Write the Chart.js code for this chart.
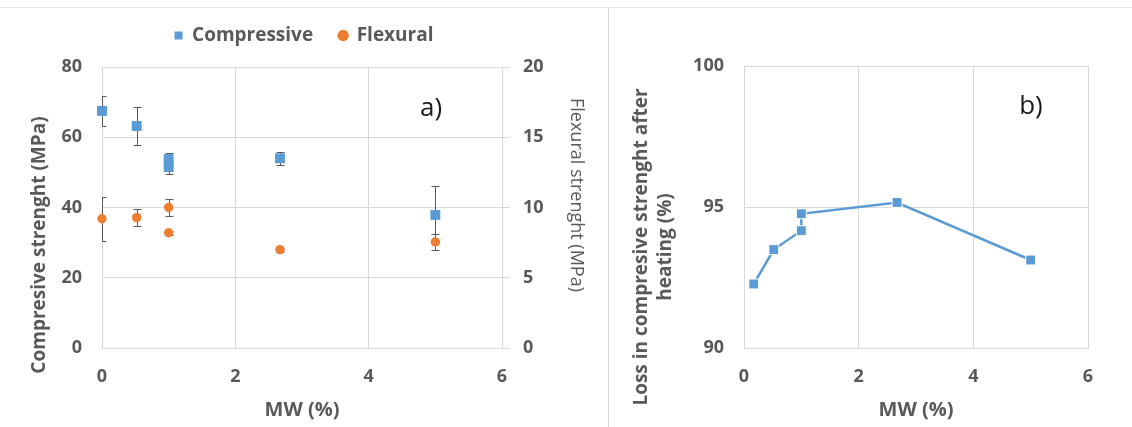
<!DOCTYPE html>
<html>
<head>
<meta charset="utf-8">
<script src="https://cdn.jsdelivr.net/npm/chart.js@4"></script>
<style>
  html, body { margin: 0; padding: 0; background: #fff; }
  #wrap { position: relative; width: 1132px; height: 427px; overflow: hidden; }
  #topline { position: absolute; left: 0; top: 7px; width: 1132px; height: 0; border-top: 1px solid #e6e6e6; }
  #sep { position: absolute; left: 608px; top: 8px; width: 0; height: 419px; border-left: 1px solid #d9d9d9; }
  #chartA { position: absolute; left: 0; top: 0; }
  #chartB { position: absolute; left: 610px; top: 0; }
</style>
</head>
<body>
<div id="wrap">
  <div id="topline"></div>
  <div id="sep"></div>
  <canvas id="chartA" width="608" height="427"></canvas>
  <canvas id="chartB" width="522" height="427"></canvas>
</div>
<script>
// panel a) - strength vs MW content
const mwA = [0, 0.52, 1, 1, 2.67, 5];
const compressive = [67.5, 63.2, 53.8, 51.5, 54.0, 37.9];
const compressiveErr = [4.2, 5.4, 1.8, 2.0, 1.9, 8.1];
const flexural = [9.2, 9.28, 10.0, 8.2, 7.0, 7.55];
const flexuralErr = [1.55, 0.6, 0.6, 0.15, 0.15, 0.55];

// panel b) - loss after heating
const mwB = [0.17, 0.52, 1, 1, 2.67, 5];
const lossAfterHeating = [92.27, 93.49, 94.16, 94.76, 95.16, 93.12];

const xTicks = [0, 2, 4, 6];

const BLUE = '#5b9bd5';
const ORANGE = '#ed7d31';
const GRID = '#d9d9d9';
const TEXT = '#595959';
const FONT = "'Open Sans', sans-serif";

Chart.defaults.font.family = FONT;
Chart.defaults.color = TEXT;

const tickFont = { size: 18, weight: 'bold' };

// error bars drawn under the markers, clipped to the plot area
const errorBars = {
  id: 'errorBars',
  beforeDatasetsDraw(chart) {
    const ctx = chart.ctx;
    const area = chart.chartArea;
    ctx.save();
    ctx.beginPath();
    ctx.rect(area.left, area.top, area.right - area.left, area.bottom - area.top);
    ctx.clip();
    ctx.strokeStyle = TEXT;
    ctx.lineWidth = 1;
    chart.data.datasets.forEach(ds => {
      if (!ds.errors) return;
      const xs = chart.scales.x;
      const ys = chart.scales[ds.yAxisID];
      ds.data.forEach((p, j) => {
        const e = ds.errors[j];
        const px = Math.round(xs.getPixelForValue(p.x)) + 0.5;
        const top = Math.round(ys.getPixelForValue(p.y + e)) + 0.5;
        const bot = Math.round(ys.getPixelForValue(p.y - e)) + 0.5;
        ctx.beginPath();
        ctx.moveTo(px, top); ctx.lineTo(px, bot);
        ctx.moveTo(px - 4, top); ctx.lineTo(px + 4, top);
        ctx.moveTo(px - 4, bot); ctx.lineTo(px + 4, bot);
        ctx.stroke();
      });
    });
    ctx.restore();
  }
};

// free text: axis titles and panel letters
const panelText = {
  id: 'panelText',
  afterDraw(chart, args, opts) {
    const ctx = chart.ctx;
    (opts.items || []).forEach(t => {
      ctx.save();
      ctx.translate(t.x, t.y);
      ctx.rotate(t.rot || 0);
      ctx.font = t.font;
      ctx.fillStyle = t.color;
      ctx.textAlign = 'center';
      ctx.textBaseline = 'middle';
      ctx.fillText(t.text, 0, 0);
      ctx.restore();
    });
  }
};

// extra space under the legend
const legendGap = {
  id: 'legendGap',
  beforeInit(chart) {
    if (!chart.legend) return;
    const fit = chart.legend.fit;
    chart.legend.fit = function () {
      fit.bind(chart.legend)();
      this.height += 12;
    };
  }
};

function xScale() {
  return {
    type: 'linear',
    min: 0,
    max: 6,
    afterBuildTicks: s => { s.ticks = xTicks.map(v => ({ value: v })); },
    ticks: { font: tickFont, color: TEXT, padding: 18 },
    grid: { color: GRID, drawTicks: false },
    border: { color: GRID },
    title: { display: true, text: 'MW (%)', color: TEXT, font: { size: 20, weight: 'bold' }, padding: { top: 0, bottom: 5 } },
    afterFit: s => { s.height = 79; }
  };
}

new Chart(document.getElementById('chartA'), {
  type: 'scatter',
  data: {
    datasets: [
      {
        label: 'Compressive',
        data: mwA.map((x, i) => ({ x, y: compressive[i] })),
        errors: compressiveErr,
        yAxisID: 'y',
        pointStyle: 'rect',
        pointRadius: 7,
        backgroundColor: BLUE,
        borderColor: BLUE,
        borderWidth: 0,
        clip: false
      },
      {
        label: 'Flexural',
        data: mwA.map((x, i) => ({ x, y: flexural[i] })),
        errors: flexuralErr,
        yAxisID: 'y1',
        pointStyle: 'circle',
        pointRadius: 4.7,
        backgroundColor: ORANGE,
        borderColor: ORANGE,
        borderWidth: 0,
        clip: false
      }
    ]
  },
  options: {
    responsive: false,
    animation: false,
    layout: { padding: { top: 0, left: 0, right: 0, bottom: 0 } },
    plugins: {
      legend: {
        position: 'top',
        labels: {
          usePointStyle: true,
          boxWidth: 8,
          boxHeight: 8,
          padding: 26,
          color: TEXT,
          font: { size: 19, weight: 'bold' }
        }
      },
      tooltip: { enabled: false },
      panelText: {
        items: [
          { text: 'Compresive strenght (MPa)', x: 40, y: 245, rot: -Math.PI / 2, font: `bold 19px ${FONT}`, color: TEXT },
          { text: 'Flexural strenght (MPa)', x: 576, y: 195, rot: Math.PI / 2, font: `400 18px ${FONT}`, color: TEXT },
          { text: 'a)', x: 431, y: 109, font: `400 26px ${FONT}`, color: '#1a1a1a' }
        ]
      }
    },
    scales: {
      x: xScale(),
      y: {
        position: 'left',
        min: 0,
        max: 80,
        ticks: { stepSize: 20, font: tickFont, color: TEXT, padding: 20 },
        grid: { color: GRID, drawTicks: false },
        border: { color: GRID },
        afterFit: s => { s.width = 102; }
      },
      y1: {
        position: 'right',
        min: 0,
        max: 20,
        ticks: { stepSize: 5, font: tickFont, color: TEXT, padding: 13 },
        grid: { color: GRID, drawOnChartArea: false, tickLength: 8 },
        border: { color: GRID },
        afterFit: s => { s.width = 106; }
      }
    }
  },
  plugins: [legendGap, errorBars, panelText]
});

new Chart(document.getElementById('chartB'), {
  type: 'scatter',
  data: {
    datasets: [
      {
        label: 'Loss after heating',
        data: mwB.map((x, i) => ({ x, y: lossAfterHeating[i] })),
        showLine: true,
        borderColor: BLUE,
        borderWidth: 2.5,
        pointStyle: 'rect',
        pointRadius: 7,
        pointBackgroundColor: BLUE,
        pointBorderColor: '#ffffff',
        pointBorderWidth: 1,
        clip: false
      }
    ]
  },
  options: {
    responsive: false,
    animation: false,
    layout: { padding: { top: 66, left: 0, right: 44, bottom: 0 } },
    plugins: {
      legend: { display: false },
      tooltip: { enabled: false },
      panelText: {
        items: [
          { text: 'Loss in compresive strenght after', x: 32, y: 247, rot: -Math.PI / 2, font: `bold 19px ${FONT}`, color: TEXT },
          { text: 'heating (%)', x: 56, y: 247, rot: -Math.PI / 2, font: `bold 19px ${FONT}`, color: TEXT },
          { text: 'b)', x: 421, y: 107, font: `400 26px ${FONT}`, color: '#1a1a1a' }
        ]
      }
    },
    scales: {
      x: xScale(),
      y: {
        position: 'left',
        min: 90,
        max: 100,
        ticks: { stepSize: 5, font: tickFont, color: TEXT, padding: 20 },
        grid: { color: GRID, drawTicks: false },
        border: { color: GRID },
        afterFit: s => { s.width = 134; }
      }
    }
  },
  plugins: [panelText]
});
</script>
</body>
</html>
